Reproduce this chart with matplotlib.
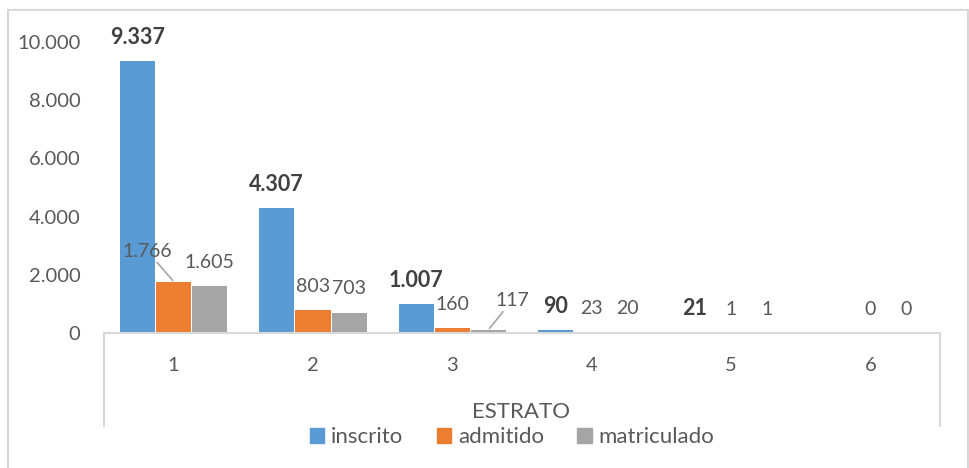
import numpy as np
import matplotlib.pyplot as plt
from matplotlib.patches import Rectangle, Patch

plt.rcParams['font.family'] = ['Lato', 'DejaVu Sans']

# data
estratos = ['1', '2', '3', '4', '5', '6']
inscrito = [9337, 4307, 1007, 90, 21, 0]
admitido = [1766, 803, 160, 23, 1, 0]
matriculado = [1605, 703, 117, 20, 1, 0]
yticks = [0, 2000, 4000, 6000, 8000, 10000]

colors = ['#5B9BD5', '#ED7D31', '#A5A5A5']
txt = '#595959'
grid = '#D9D9D9'


def fmt(v):
    return f'{v:,}'.replace(',', '.')


fig = plt.figure(figsize=(9.69, 4.68), dpi=100)
ax = fig.add_axes([104 / 969, 135 / 468, 836 / 969, 291 / 468])

# outer chart frame
fig.patches.append(Rectangle((8 / 969, -0.05), 960 / 969, 1.05 - 10 / 468,
                             transform=fig.transFigure, fill=False,
                             edgecolor=grid, lw=1.5))

x = np.arange(len(estratos))
w = 0.26
series = [inscrito, admitido, matriculado]
for i, vals in enumerate(series):
    ax.bar(x + (i - 1) * w, vals, width=w * 0.97, color=colors[i], zorder=2)

# data labels
for j, v in enumerate(inscrito):
    if v == 0:
        continue
    ax.annotate(fmt(v), (x[j] - w, v), xytext=(0, 17), textcoords='offset points',
                ha='center', va='center', fontsize=15.5, fontweight='bold',
                color='#404040')

line = dict(arrowstyle='-', color='#A5A5A5', lw=1.2, shrinkA=0, shrinkB=1)
for i, vals in [(1, admitido), (2, matriculado)]:
    for j, v in enumerate(vals):
        off = (0, 17)
        arrow = None
        if i == 1 and j == 0:
            off = (-19, 22)
            arrow = line
        if i == 2 and j == 2:
            off = (17, 21)
            arrow = line
        ax.annotate(fmt(v), (x[j] + (i - 1) * w, v), xytext=off,
                    textcoords='offset points', ha='center', va='center',
                    fontsize=14, color=txt, arrowprops=arrow)

ax.set_xlim(-0.5, len(estratos) - 0.5)
ax.set_ylim(0, 10000)
ax.set_yticks(yticks)
ax.set_yticklabels([fmt(t) for t in yticks])
ax.set_xticks(x)
ax.set_xticklabels(estratos)
ax.tick_params(axis='y', length=0, pad=17, labelsize=14.5, labelcolor=txt)
ax.tick_params(axis='x', length=0, pad=17, labelsize=14.5, labelcolor=txt)

for s in ['top', 'right', 'left']:
    ax.spines[s].set_visible(False)
ax.spines['bottom'].set_color(grid)
ax.spines['bottom'].set_linewidth(1.5)

# category axis box sides
for xa in [0, 1]:
    ax.plot([xa, xa], [0, -0.32], transform=ax.transAxes, color=grid,
            lw=1.5, clip_on=False)

fig.text(521 / 969, 1 - 412 / 468, 'ESTRATO', ha='center', va='center',
         fontsize=16, color=txt)

handles = [Patch(color=c) for c in colors]
fig.legend(handles, ['inscrito', 'admitido', 'matriculado'], loc='center',
           bbox_to_anchor=(512 / 969, 1 - 437 / 468), ncol=3, frameon=False,
           handlelength=0.65, handleheight=0.65, handletextpad=0.3,
           columnspacing=1.5, fontsize=16, labelcolor=txt)

fig.savefig('out.png', dpi=100)
